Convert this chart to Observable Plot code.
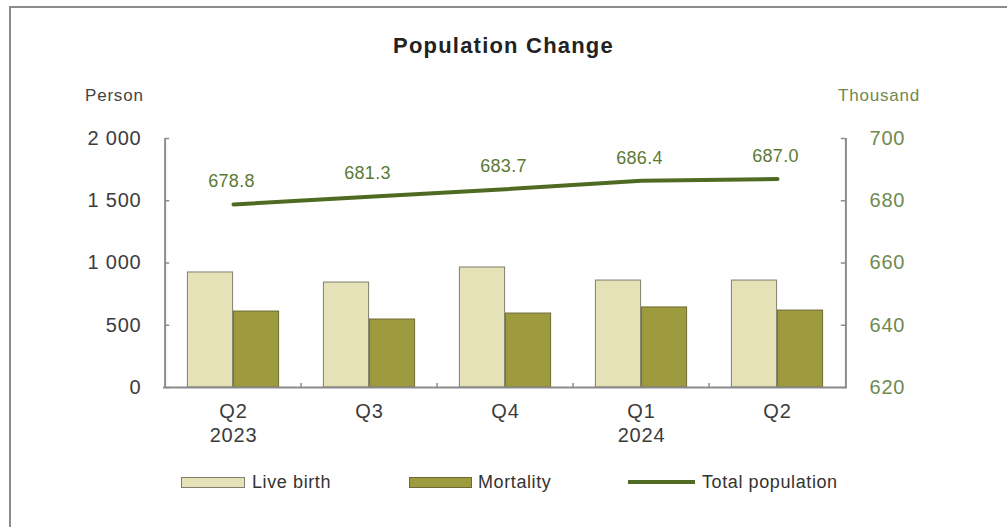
<!DOCTYPE html>
<html><head><meta charset="utf-8">
<script src="https://cdn.jsdelivr.net/npm/d3@7"></script>
<script src="https://cdn.jsdelivr.net/npm/@observablehq/plot@0.6"></script>
<style>
body{margin:0;background:#fff;}
#wrap{position:relative;width:1007px;height:527px;font-family:"Liberation Sans",Arial,sans-serif;overflow:hidden;background:#fff;}
#wrap svg{position:absolute;left:0;top:0;}
#wrap svg text{letter-spacing:0.8px;}
#wrap svg g[aria-label="text"]:last-of-type text{letter-spacing:0.3px;}
.border{position:absolute;left:9px;top:6px;right:-5px;bottom:-5px;border-top:2px solid #8c8c8c;border-left:2px solid #8c8c8c;}
.lbl{position:absolute;white-space:nowrap;line-height:normal;}
.title{left:0;width:1007px;text-align:center;top:33px;font-weight:bold;font-size:22px;letter-spacing:1.2px;color:#222;}
.unit{top:86px;font-size:17px;letter-spacing:0.8px;}
.leg{top:472px;font-size:18px;letter-spacing:0.6px;color:#333;}
.sw{position:absolute;box-sizing:border-box;}
</style>
</head><body>
<div id="wrap">
  <div class="border"></div>
  <div class="lbl title">Population Change</div>
  <div class="lbl unit" style="left:85px;color:#444;">Person</div>
  <div class="lbl unit" style="left:838px;color:#6f8a4f;">Thousand</div>
  <div class="sw" style="left:181px;top:477px;width:64px;height:11px;background:#e4e2b6;border:1px solid #7f7f70;"></div>
  <div class="lbl leg" style="left:252px;">Live birth</div>
  <div class="sw" style="left:409px;top:477px;width:63px;height:11px;background:#9e9b3e;border:1px solid #6b6a35;"></div>
  <div class="lbl leg" style="left:478px;">Mortality</div>
  <div class="sw" style="left:628px;top:480px;width:67px;height:4px;background:#4f6b23;"></div>
  <div class="lbl leg" style="left:702px;">Total population</div>
</div>
<script>
const quarters = ["Q2\n2023", "Q3", "Q4", "Q1\n2024", "Q2"];
const liveBirth = [924, 843, 964, 859, 859];
const mortality = [610, 546, 594, 643, 618];
const totalPopulation = [678.8, 681.3, 683.7, 686.4, 687.0];
const leftTicks = [0, 500, 1000, 1500, 2000];
const rightTicks = [620, 640, 660, 680, 700];

const W = 1007, H = 527, mL = 163, mR = 160, mT = 138, mB = 140;
const bw = (W - mL - mR) / quarters.length;
const barW = 46;
const k = (leftTicks[leftTicks.length - 1] - leftTicks[0]) / (rightTicks[rightTicks.length - 1] - rightTicks[0]);
const toLeft = v => (v - rightTicks[0]) * k;
const fmt = d => d3.format(",")(d).replace(/,/g, " ");
const rows = quarters.map((q, i) => ({q, birth: liveBirth[i], death: mortality[i], pop: totalPopulation[i], popY: toLeft(totalPopulation[i])}));
const rightRows = rightTicks.map(v => ({v, y: toLeft(v)}));
const axisCol = "#8c8c8c";
const first = quarters[0], last = quarters[quarters.length - 1];

const chart = Plot.plot({
  width: W, height: H,
  marginLeft: mL, marginRight: mR, marginTop: mT, marginBottom: mB,
  x: {domain: quarters, padding: 0, axis: null},
  y: {domain: [leftTicks[0], leftTicks[leftTicks.length - 1]], axis: null},
  style: {fontFamily: "Liberation Sans, Arial, sans-serif", background: "transparent", overflow: "visible"},
  marks: [
    Plot.barY(rows, {x: "q", y: "birth", fill: "#e4e2b6", stroke: "#7f7f70", strokeWidth: 1, insetLeft: bw / 2 - barW, insetRight: bw / 2}),
    Plot.barY(rows, {x: "q", y: "death", fill: "#9e9b3e", stroke: "#6b6a35", strokeWidth: 1, insetLeft: bw / 2, insetRight: bw / 2 - barW}),
    Plot.ruleY([0], {stroke: axisCol, strokeWidth: 2}),
    Plot.ruleX([first], {dx: -bw / 2, stroke: axisCol, strokeWidth: 2}),
    Plot.ruleX([last], {dx: bw / 2, stroke: axisCol, strokeWidth: 2}),
    Plot.ruleX(quarters.slice(1), {dx: -bw / 2, y1: 0, y2: 32, stroke: axisCol, strokeWidth: 1.5}),
    Plot.tickY(leftTicks, {y: d => d, x: () => first, insetRight: bw - 5, stroke: axisCol, strokeWidth: 1.5}),
    Plot.tickY(rightRows, {y: "y", x: () => last, insetLeft: bw - 5, stroke: axisCol, strokeWidth: 1.5}),
    Plot.text(leftTicks, {y: d => d, frameAnchor: "left", dx: -22, textAnchor: "end", text: fmt, fontSize: 20, fill: "#3c3c3c"}),
    Plot.text(rightRows, {y: "y", frameAnchor: "right", dx: 22, textAnchor: "start", text: d => String(d.v), fontSize: 20, fill: "#6f8a4f"}),
    Plot.text(quarters, {x: d => d, frameAnchor: "bottom", dy: 13, lineAnchor: "top", lineHeight: 1.2, text: d => d, fontSize: 20, fill: "#3c3c3c"}),
    Plot.line(rows, {x: "q", y: "popY", stroke: "#4f6b23", strokeWidth: 4}),
    Plot.text(rows, {x: "q", y: "popY", text: d => d.pop.toFixed(1), dx: -2, dy: -23, fill: "#5c7a34", fontSize: 18})
  ]
});
document.getElementById("wrap").appendChild(chart);
</script>
</body></html>
